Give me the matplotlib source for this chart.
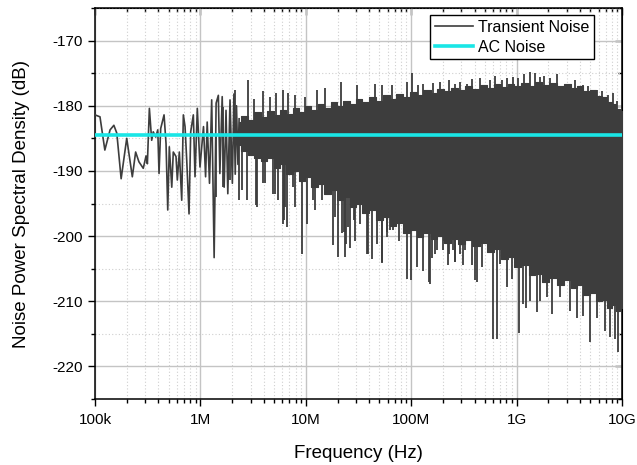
import numpy as np
import matplotlib.pyplot as plt
from matplotlib.ticker import FixedLocator, LogLocator, MultipleLocator, NullFormatter

plt.rcParams['font.family'] = ['Liberation Sans', 'DejaVu Sans']
plt.rcParams['axes.unicode_minus'] = False

# transient noise, sparse low-frequency part (Hz, dB)
low_freq = [1.0e5, 1.115e5, 1.24e5, 1.39e5, 1.51e5, 1.61e5, 1.77e5, 2.0e5, 2.26e5, 2.43e5,
            2.61e5, 2.87e5, 3.05e5, 3.14e5, 3.28e5, 3.45e5, 3.57e5, 3.77e5, 3.94e5, 4.05e5,
            4.2e5, 4.52e5, 4.72e5, 4.9e5, 5.07e5, 5.35e5, 5.53e5, 5.87e5, 6.04e5, 6.31e5,
            6.65e5, 6.89e5, 7.15e5, 7.42e5, 7.8e5, 8.09e5, 8.57e5, 8.89e5, 9.35e5, 9.91e5,
            1.07e6, 1.12e6, 1.16e6, 1.22e6, 1.28e6, 1.35e6, 1.41e6, 1.48e6, 1.53e6, 1.61e6,
            1.68e6, 1.75e6, 1.82e6, 1.91e6, 2.01e6, 2.08e6, 2.14e6, 2.2e6, 2.27e6, 2.33e6]
low_db = [-181.4, -181.7, -186.8, -183.7, -183.0, -184.2, -191.2, -185.0, -190.9, -187.1,
          -188.6, -189.6, -187.7, -188.9, -180.4, -185.3, -184.0, -184.8, -183.7, -190.4,
          -183.5, -181.4, -185.8, -196.0, -186.3, -192.5, -187.1, -187.8, -191.4, -187.1,
          -194.5, -181.4, -183.2, -188.4, -196.6, -184.0, -181.4, -190.9, -180.4, -189.4,
          -183.2, -190.9, -182.5, -191.9, -179.1, -203.3, -179.6, -178.4, -190.4, -178.6,
          -192.5, -180.7, -193.5, -179.1, -191.9, -178.2, -190.5, -180.0, -189.0, -182.0]

# dense part: outline of the solid band
band_freq = [2.3e6, 2.6e6, 3.0e6, 3.5e6, 4.0e6, 4.6e6, 5.3e6, 6.0e6, 7.0e6, 8.0e6,
             9.2e6, 1.05e7, 1.2e7, 1.4e7, 1.6e7, 1.85e7, 2.1e7, 2.4e7, 2.8e7, 3.2e7,
             3.7e7, 4.3e7, 5.0e7, 5.8e7, 6.7e7, 7.8e7, 9.0e7, 1.05e8, 1.2e8, 1.4e8,
             1.65e8, 1.9e8, 2.2e8, 2.6e8, 3.0e8, 3.5e8, 4.1e8, 4.8e8, 5.6e8, 6.5e8,
             7.6e8, 8.8e8, 1.0e9, 1.2e9, 1.4e9, 1.6e9, 1.9e9, 2.2e9, 2.6e9, 3.0e9,
             3.5e9, 4.0e9, 4.6e9, 5.3e9, 6.0e9, 6.8e9, 7.6e9, 8.4e9, 9.2e9, 1.0e10]
band_top = [-182.5, -181.5, -182.2, -181.0, -181.8, -180.8, -181.4, -180.6, -181.2, -180.3,
            -180.9, -180.0, -180.6, -179.8, -180.3, -179.5, -180.0, -179.2, -179.8, -179.0,
            -179.5, -178.7, -179.2, -178.4, -178.9, -178.2, -178.6, -177.9, -178.3, -177.6,
            -178.1, -177.4, -177.8, -177.2, -177.6, -177.0, -177.4, -176.8, -177.2, -176.7,
            -177.1, -176.6, -177.0, -176.5, -176.9, -176.4, -176.8, -176.5, -176.9, -176.6,
            -177.2, -177.0, -177.7, -177.6, -178.5, -178.6, -179.5, -179.7, -180.5, -180.8]
band_bottom = [-186.0, -187.0, -187.5, -188.0, -188.5, -188.0, -189.5, -189.0, -190.5, -190.0,
               -191.5, -191.0, -192.5, -192.0, -193.5, -193.0, -194.5, -194.0, -195.5, -195.0,
               -196.5, -196.0, -197.5, -197.0, -198.5, -198.0, -199.5, -199.0, -200.2, -199.6,
               -200.5, -200.0, -201.0, -200.4, -201.2, -200.6, -201.5, -201.0, -202.5, -202.0,
               -203.5, -203.2, -204.8, -204.5, -206.0, -205.8, -207.0, -206.5, -207.5, -206.8,
               -208.0, -207.5, -209.0, -208.8, -210.0, -209.8, -211.0, -210.6, -211.5, -211.0]

# individual peaks above the band
up_freq = [1.65e6, 2.13e6, 2.85e6, 3.2e6, 3.95e6, 4.59e6, 5.27e6, 6.04e6, 6.8e6, 7.9e6,
           9.8e6, 1.27e7, 1.52e7, 2.16e7, 3.04e7, 4.54e7, 5.32e7, 6.53e7, 9.08e7, 1.01e8,
           1.15e8, 1.30e8, 1.6e8, 1.88e8, 2.3e8, 2.60e8, 2.90e8, 3.36e8, 3.8e8, 4.50e8,
           5.60e8, 6.2e8, 7.2e8, 8.05e8, 9.2e8, 1.04e9, 1.18e9, 1.34e9, 1.5e9, 1.67e9,
           1.8e9, 2.07e9, 2.4e9, 2.99e9, 3.6e9, 4.3e9, 4.8e9, 5.75e9, 6.5e9, 7.3e9,
           8.28e9, 9.0e9]
up_db = [-180.2, -177.6, -176.0, -178.9, -177.8, -178.6, -178.0, -177.6, -178.0, -178.3,
         -178.6, -177.6, -177.3, -176.3, -176.8, -176.6, -176.8, -176.8, -176.3, -175.0,
         -176.8, -176.6, -176.5, -176.3, -176.0, -176.6, -176.3, -176.6, -175.9, -175.8,
         -176.0, -175.5, -176.0, -175.8, -175.6, -175.8, -175.2, -174.8, -175.0, -175.6,
         -175.4, -175.8, -175.2, -176.6, -176.0, -176.8, -176.9, -177.6, -177.7, -178.3,
         -178.1, -179.3]

# individual dips below the band
down_freq = [1.42e6, 1.65e6, 1.9e6, 2.32e6, 2.46e6, 2.75e6, 3.35e6, 3.42e6, 3.95e6, 4.1e6,
             4.85e6, 5.1e6, 5.48e6, 6.04e6, 6.2e6, 6.35e6, 6.59e6, 7.62e6, 7.9e6, 9.14e6,
             1.02e7, 1.18e7, 1.22e7, 1.41e7, 1.83e7, 1.89e7, 2.04e7, 2.19e7, 2.28e7, 2.35e7,
             2.41e7, 2.53e7, 2.63e7, 2.84e7, 2.93e7, 3.27e7, 3.39e7, 3.78e7, 3.86e7, 4.22e7,
             4.71e7, 5.25e7, 5.28e7, 5.86e7, 5.89e7, 6.3e7, 6.78e7, 7.56e7, 7.6e7, 9.08e7,
             1.0e8, 1.13e8, 1.30e8, 1.46e8, 1.51e8, 1.57e8, 1.68e8, 1.76e8, 2.02e8, 2.03e8,
             2.25e8, 2.27e8, 2.51e8, 2.61e8, 2.62e8, 2.93e8, 3.12e8, 3.24e8, 3.78e8, 4.03e8,
             4.18e8, 4.67e8, 6.01e8, 6.47e8, 6.96e8, 8.05e8, 8.98e8, 1.05e9, 1.16e9, 1.23e9,
             1.34e9, 1.55e9, 1.67e9, 1.93e9, 2.15e9, 2.58e9, 3.21e9, 3.72e9, 4.3e9, 4.97e9,
             5.75e9, 6.9e9, 7.7e9, 8.59e9, 9.23e9]
down_db = [-194.0, -192.5, -191.4, -194.5, -193.0, -194.5, -195.2, -195.5, -191.9, -191.9,
           -193.5, -193.5, -194.5, -198.1, -197.6, -195.5, -198.6, -192.5, -195.5, -202.7,
           -198.1, -194.5, -196.0, -194.5, -201.4, -197.1, -203.2, -199.6, -199.4, -203.2,
           -201.2, -198.6, -201.9, -197.6, -200.7, -198.1, -195.0, -202.7, -202.7, -203.5,
           -201.2, -204.2, -204.0, -200.1, -199.4, -199.1, -199.1, -197.6, -200.7, -206.6,
           -206.8, -204.8, -205.3, -207.1, -207.3, -203.3, -202.7, -202.2, -202.2, -200.7,
           -204.5, -202.7, -202.2, -204.0, -204.0, -202.7, -204.5, -202.2, -204.5, -206.8,
           -207.0, -204.8, -215.8, -215.8, -204.3, -207.8, -206.6, -214.8, -210.4, -211.0,
           -209.9, -211.7, -210.0, -209.4, -211.9, -209.4, -211.5, -212.5, -212.2, -216.3,
           -212.5, -214.5, -215.5, -215.8, -217.8]

ac_level = -184.5
trace_color = '#3d3d3d'

fig = plt.figure(figsize=(6.37, 4.65), dpi=100)
ax = fig.add_axes([95 / 637, 1 - 399 / 465, 527 / 637, 391 / 465])

ax.plot(low_freq, low_db, color=trace_color, lw=1.2, zorder=3)
ax.fill_between(band_freq, band_bottom, band_top, step='mid', color=trace_color, lw=0.8,
                edgecolor=trace_color, zorder=3)
ax.vlines(up_freq, ac_level, up_db, color=trace_color, lw=1.3, zorder=3)
ax.vlines(down_freq, ac_level, down_db, color=trace_color, lw=1.3, zorder=3)
ax.plot([], [], color=trace_color, lw=1.2, label='Transient Noise')
ax.axhline(ac_level, color='#19e6e6', lw=2.6, zorder=4, label='AC Noise')

ax.set_xscale('log')
ax.set_xlim(1e5, 1e10)
ax.set_ylim(-225, -165)

decades = [1e5, 1e6, 1e7, 1e8, 1e9, 1e10]
ax.set_xticks(decades, ['100k', '1M', '10M', '100M', '1G', '10G'])
ax.xaxis.set_minor_locator(LogLocator(base=10, subs=np.arange(2, 10), numticks=20))
ax.xaxis.set_minor_formatter(NullFormatter())
ax.yaxis.set_minor_locator(MultipleLocator(5))
ax.set_yticks([-170, -180, -190, -200, -210, -220])

ax.grid(which='major', color='#c4c4c4', lw=1.0, zorder=0)
ax.grid(which='minor', color='#cfcfcf', lw=0.8, ls=(0, (1, 2)), zorder=0)
ax.set_axisbelow(True)

ax.tick_params(which='major', direction='out', length=5, width=1.0, labelsize=11)
ax.tick_params(which='minor', direction='out', length=3, width=1.0)
ax.tick_params(axis='x', which='major', pad=5)
ax.tick_params(axis='y', which='major', pad=4)
for s in ax.spines.values():
    s.set_linewidth(1.1)

# inward ticks on top and right
top = ax.secondary_xaxis('top')
top.xaxis.set_major_locator(FixedLocator(decades))
top.xaxis.set_minor_locator(LogLocator(base=10, subs=np.arange(2, 10), numticks=20))
top.xaxis.set_major_formatter(NullFormatter())
top.xaxis.set_minor_formatter(NullFormatter())
top.tick_params(which='major', direction='in', length=5, width=1.0)
top.tick_params(which='minor', direction='in', length=3, width=1.0)
right = ax.secondary_yaxis('right')
right.yaxis.set_major_locator(MultipleLocator(10))
right.yaxis.set_minor_locator(MultipleLocator(5))
right.yaxis.set_major_formatter(NullFormatter())
right.tick_params(which='major', direction='in', length=5, width=1.0)
right.tick_params(which='minor', direction='in', length=3, width=1.0)

ax.set_xlabel('Frequency (Hz)', fontsize=13.5, labelpad=13)
ax.set_ylabel('Noise Power Spectral Density (dB)', fontsize=13.5, labelpad=16)

leg = ax.legend(loc='upper right', bbox_to_anchor=(0.947, 0.982), borderaxespad=0,
                fontsize=11.5, frameon=True, fancybox=False, handlelength=2.4,
                handletextpad=0.3, borderpad=0.3, labelspacing=0.3)
leg.get_frame().set_edgecolor('black')
leg.get_frame().set_linewidth(1.0)
leg.get_frame().set_alpha(1)

fig.savefig('out.png', dpi=100)
